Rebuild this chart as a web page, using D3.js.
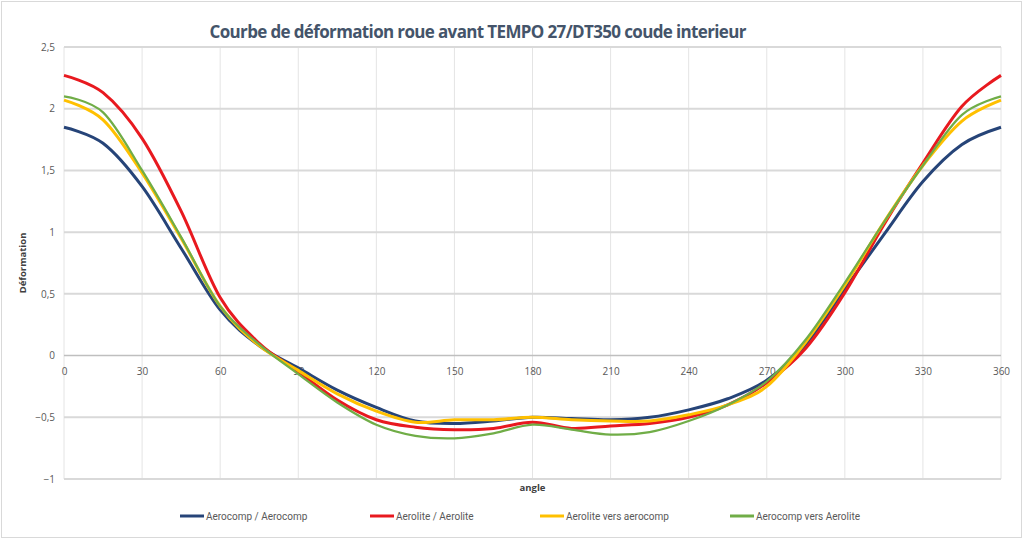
<!DOCTYPE html>
<html>
<head>
<meta charset="utf-8">
<script src="https://cdn.jsdelivr.net/npm/d3@7"></script>
<style>
  body { margin: 0; background: #fff; }
  .tick text { font-family: "Open Sans", sans-serif; fill: #595959; }
</style>
</head>
<body>
<div id="chart"></div>
<script>
var w = 1024;
var h = 540;

// angles (degrees) and deformation values
var angles = [0, 15, 30, 45, 60, 75, 90, 105, 120, 135, 150, 165, 180, 195, 210, 225, 240, 255, 270, 285, 300, 315, 330, 345, 360];
var aerocompAerocomp = [1.85, 1.72, 1.37, 0.87, 0.37, 0.08, -0.10, -0.28, -0.42, -0.53, -0.55, -0.53, -0.50, -0.51, -0.52, -0.50, -0.44, -0.35, -0.20, 0.09, 0.54, 0.98, 1.41, 1.71, 1.85];
var aeroliteAerolite = [2.27, 2.13, 1.76, 1.17, 0.47, 0.10, -0.13, -0.36, -0.52, -0.58, -0.60, -0.59, -0.54, -0.59, -0.57, -0.55, -0.50, -0.40, -0.22, 0.06, 0.51, 1.06, 1.56, 2.02, 2.27];
var aeroliteVersAerocomp = [2.07, 1.91, 1.48, 0.95, 0.40, 0.08, -0.12, -0.31, -0.45, -0.54, -0.52, -0.52, -0.50, -0.52, -0.53, -0.53, -0.48, -0.40, -0.25, 0.11, 0.57, 1.08, 1.54, 1.90, 2.07];
var aerocompVersAerolite = [2.10, 1.97, 1.50, 0.96, 0.40, 0.09, -0.15, -0.38, -0.56, -0.65, -0.67, -0.63, -0.56, -0.60, -0.64, -0.62, -0.53, -0.40, -0.21, 0.13, 0.59, 1.08, 1.54, 1.95, 2.10];
var seriesNames = ["Aerocomp / Aerocomp", "Aerolite / Aerolite", "Aerolite vers aerocomp", "Aerocomp vers Aerolite"];
var seriesColors = ["#264478", "#e8191f", "#ffc000", "#70ad47"];
var xTicks = [0, 30, 60, 90, 120, 150, 180, 210, 240, 270, 300, 330, 360];
var yTicks = [-1, -0.5, 0, 0.5, 1, 1.5, 2, 2.5];

var series = [aerocompAerocomp, aeroliteAerolite, aeroliteVersAerocomp, aerocompVersAerolite];

var svg = d3.select("#chart").append("svg")
    .attr("width", w)
    .attr("height", h);

// outer frame
svg.append("rect")
    .attr("x", 1.5).attr("y", 1.5)
    .attr("width", w - 4).attr("height", h - 4)
    .attr("fill", "#fff")
    .attr("stroke", "#d9d9d9");

var margin = {top: 47, right: 23, bottom: 61, left: 64},
    width = w - margin.left - margin.right,
    height = h - margin.top - margin.bottom;

var x = d3.scaleLinear().domain([0, 360]).range([0, width]);
var y = d3.scaleLinear().domain([-1, 2.5]).range([height, 0]);

var fr = d3.formatLocale({decimal: ",", thousands: " ", grouping: [3], currency: ["", "€"]});
var fmt = fr.format("");

var g = svg.append("g")
    .attr("transform", "translate(" + margin.left + "," + margin.top + ")");

// vertical grid
g.selectAll(".vgrid")
  .data(xTicks)
  .enter().append("line")
    .attr("x1", function(d) { return x(d); })
    .attr("x2", function(d) { return x(d); })
    .attr("y1", 0).attr("y2", height)
    .attr("stroke", "#e4e4e4")
    .attr("stroke-width", 1);

// horizontal grid
g.selectAll(".hgrid")
  .data(yTicks)
  .enter().append("line")
    .attr("x1", 0).attr("x2", width)
    .attr("y1", function(d) { return y(d); })
    .attr("y2", function(d) { return y(d); })
    .attr("stroke", function(d) { return d === 0 ? "#bfbfbf" : "#d9d9d9"; })
    .attr("stroke-width", function(d) { return d === 0 ? 1.5 : 2; });

// y axis
var yAxis = g.append("g")
    .call(d3.axisLeft(y).tickValues(yTicks).tickSize(0).tickPadding(9).tickFormat(fmt));
yAxis.select(".domain").remove();
yAxis.selectAll("text").style("font-size", "10px");

// x axis on the zero line
var xAxis = g.append("g")
    .attr("transform", "translate(0," + y(0) + ")")
    .call(d3.axisBottom(x).tickValues(xTicks).tickSize(0).tickPadding(12));
xAxis.select(".domain").remove();
xAxis.selectAll("text").style("font-size", "10px");

// curves (smoothed like the spreadsheet lines)
var line = d3.line()
    .x(function(d, i) { return x(angles[i]); })
    .y(function(d) { return y(d); })
    .curve(d3.curveCardinal.tension(0));

g.selectAll(".serie")
  .data(series)
  .enter().append("path")
    .attr("class", "serie")
    .attr("fill", "none")
    .attr("stroke", function(d, i) { return seriesColors[i]; })
    .attr("stroke-width", function(d, i) { return i === 3 ? 2.25 : 3; })
    .attr("stroke-linejoin", "round")
    .attr("d", line);

// titles
svg.append("text")
    .attr("x", 478).attr("y", 38)
    .attr("text-anchor", "middle")
    .attr("textLength", 537)
    .style("font-family", "'Open Sans', sans-serif")
    .style("font-size", "17px")
    .style("font-weight", "bold")
    .attr("fill", "#44546a")
    .text("Courbe de déformation roue avant TEMPO 27/DT350 coude interieur");

svg.append("text")
    .attr("transform", "translate(26," + (margin.top + y(0.75)) + ") rotate(-90)")
    .attr("text-anchor", "middle")
    .style("font-family", "'Open Sans', sans-serif")
    .style("font-size", "9.5px")
    .style("font-weight", "bold")
    .attr("fill", "#404040")
    .text("Déformation");

svg.append("text")
    .attr("x", margin.left + x(180)).attr("y", 491)
    .attr("text-anchor", "middle")
    .style("font-family", "'Open Sans', sans-serif")
    .style("font-size", "9.5px")
    .style("font-weight", "bold")
    .attr("fill", "#404040")
    .text("angle");

// legend
var legendX = [180, 370, 540, 730];
var legend = svg.selectAll(".legend")
  .data(seriesNames)
  .enter().append("g")
    .attr("transform", function(d, i) { return "translate(" + legendX[i] + ",516)"; });
legend.append("line")
    .attr("x1", 0).attr("x2", 24)
    .attr("stroke", function(d, i) { return seriesColors[i]; })
    .attr("stroke-width", 3);
legend.append("text")
    .attr("x", 26).attr("y", 4)
    .style("font-family", "Roboto, sans-serif")
    .style("font-size", "10px")
    .attr("fill", "#595959")
    .text(function(d) { return d; });
</script>
</body>
</html>
